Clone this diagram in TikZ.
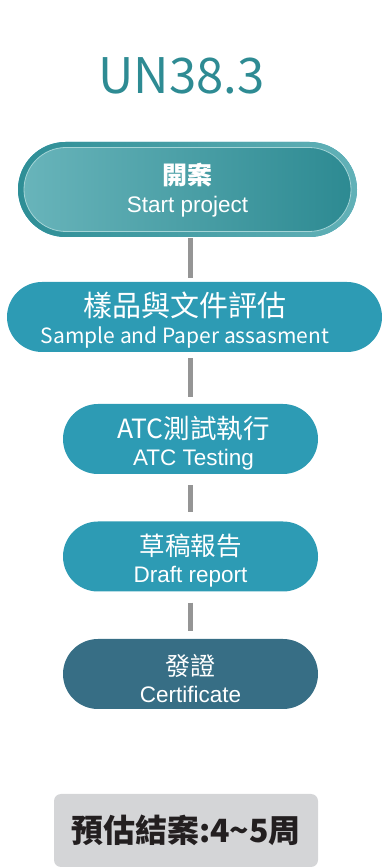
\documentclass[tikz,border=0pt]{standalone}
\usepackage{fontspec}
\setmainfont{Liberation Sans}
\newfontfamily\cjk{Noto Sans CJK TC}
\definecolor{titleteal}{HTML}{2E8B93}
\definecolor{ringdark}{HTML}{2E8E96}
\definecolor{ringlight}{HTML}{62B1B7}
\definecolor{filllight}{HTML}{68B4BA}
\definecolor{filldark}{HTML}{2D8A92}
\definecolor{innerline}{HTML}{A5D4D6}
\definecolor{stepblue}{HTML}{2D9BB4}
\definecolor{certblue}{HTML}{376E85}
\definecolor{linegrey}{HTML}{959595}
\definecolor{notegrey}{HTML}{D4D5D7}
\definecolor{notetext}{HTML}{231F20}
\begin{document}
\begin{tikzpicture}[
    x=1pt, y=1pt,
    stepnode/.style={rectangle, rounded corners=35pt, minimum width=255pt, minimum height=70pt,
      inner sep=0pt, fill=stepblue},
    steptext/.style={text=white, align=center, inner sep=0pt, font=\fontsize{22.5}{27}\selectfont},
    link/.style={draw=linegrey, line width=5pt}
  ]
  \useasboundingbox (0,0) rectangle (381,868);
  \node[anchor=base, text=titleteal, font=\cjk\fontsize{49}{49}\selectfont] (title) at (181.5,774) {UN38.3};
  \node[stepnode, minimum width=339pt, minimum height=95pt, rounded corners=47.5pt,
    left color=ringdark, right color=ringlight] (startring) at (187.5,678.5) {};
  \node[stepnode, minimum width=327pt, minimum height=84pt, rounded corners=42pt,
    left color=filllight, right color=filldark, draw=innerline, line width=0.8pt] (start) at (startring) {};
  \node[steptext] (starttext) at ([yshift=-1pt]start.center)
    {{\cjk\bfseries\fontsize{25}{25}\selectfont 開案}\\[1pt]Start project};
  \node[stepnode, minimum width=375pt] (sample) at (194.5,551) {};
  \node[steptext, font=\cjk\fontsize{21}{27}\selectfont] (sampletext) at (185,548)
    {{\fontsize{29}{29}\selectfont 樣品與文件評估}\\Sample and Paper assasment};
  \node[stepnode] (testing) at (190.5,429) {};
  \node[steptext] (testingtext) at ([xshift=3pt,yshift=-4pt]testing.center)
    {{\cjk\fontsize{26.5}{26.5}\selectfont ATC測試執行}\\ATC Testing};
  \node[stepnode] (draft) at (190.5,311.5) {};
  \node[steptext] (drafttext) at ([yshift=-4pt]draft.center)
    {{\cjk\fontsize{25.5}{25.5}\selectfont 草稿報告}\\Draft report};
  \node[stepnode, fill=certblue] (cert) at (190.5,194) {};
  \node[steptext] (certtext) at ([yshift=-5pt]cert.center)
    {{\cjk\fontsize{25}{25}\selectfont 發證}\\Certificate};
  \node[rectangle, rounded corners=7pt, fill=notegrey, minimum width=264pt, minimum height=73pt,
    text=notetext, font=\cjk\bfseries\fontsize{32}{32}\selectfont] (note) at (186,37.5) {預估結案:4\textasciitilde5周};
  \draw[link, shorten <=1pt, shorten >=4pt] (startring.south -| cert) -- (sample.north -| cert);
  \draw[link, shorten <=6pt, shorten >=7pt] (sample.south -| cert) -- (testing.north -| cert);
  \draw[link, shorten <=11pt, shorten >=9pt] (testing) -- (draft);
  \draw[link, shorten <=11pt, shorten >=8pt] (draft) -- (cert);
\end{tikzpicture}
\end{document}
